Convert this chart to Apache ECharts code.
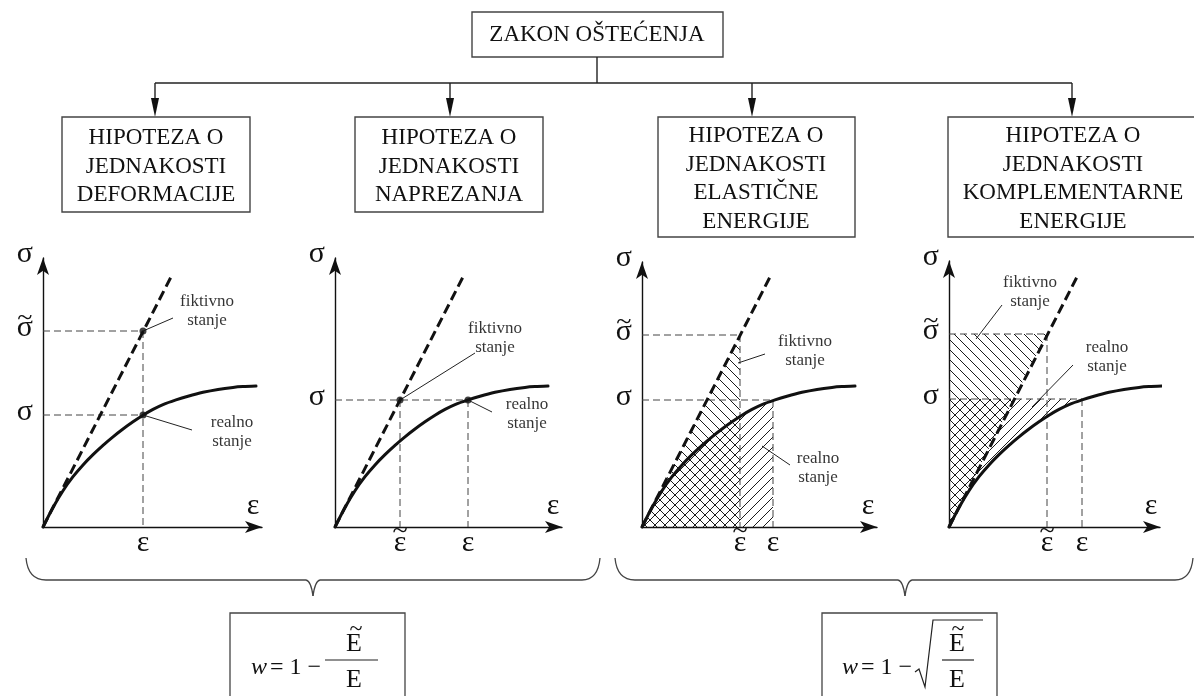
<!DOCTYPE html>
<html><head><meta charset="utf-8">
<script src="https://cdn.jsdelivr.net/npm/echarts@6/dist/echarts.min.js"></script>
<style>html,body{margin:0;padding:0;background:#fff}#c{width:1194px;height:696px}</style>
</head><body><div id="c"></div>
<script>
// ================= DATA =================
// real (nonlinear) stress-strain curve, read from the picture (same in all four panels)
const curveStrain = [0, 0.1, 0.2, 0.3, 0.4, 0.5, 0.6, 0.7, 0.8, 0.9, 1.0, 1.1, 1.2, 1.33, 1.45, 1.6, 1.75, 1.9, 2.0, 2.13];
const curveStress = [0, 0.195, 0.363, 0.503, 0.621, 0.724, 0.817, 0.902, 0.98, 1.052, 1.118, 1.176, 1.224, 1.271, 1.308, 1.347, 1.376, 1.396, 1.404, 1.409];
// fictive (undamaged, linear) line
const fictiveLineStrain = [0, 1.29];
const fictiveLineStress = [0, 2.52];
// characteristic states per panel
const realStrain = [1.00, 1.33, 1.31, 1.33];
const realStress = [1.12, 1.27, 1.27, 1.28];
const fictStrain = [1.00, 0.65, 0.98, 0.98];
const fictStress = [1.96, 1.27, 1.92, 1.93];
// tick labels
const strainLabelReal = 'ε', strainLabelFict = 'ε̃';
const stressLabelReal = 'σ', stressLabelFict = 'σ̃';
const axisNameStrain = 'ε', axisNameStress = 'σ';
// texts
const rootTitle = 'ZAKON OŠTEĆENJA';
const hypothesisTitles = [
  'HIPOTEZA O\nJEDNAKOSTI\nDEFORMACIJE',
  'HIPOTEZA O\nJEDNAKOSTI\nNAPREZANJA',
  'HIPOTEZA O\nJEDNAKOSTI\nELASTIČNE\nENERGIJE',
  'HIPOTEZA O\nJEDNAKOSTI\nKOMPLEMENTARNE\nENERGIJE'
];
const fictiveStateText = 'fiktivno\nstanje';
const realStateText = 'realno\nstanje';
const hatchMode = ['none', 'none', 'energy', 'complementary'];
const showStatePoints = [true, true, false, false];

// ================= LAYOUT =================
const FONT = "'Liberation Serif','Times New Roman',serif";
const INK = '#111';
const L = {
  originX: [43, 335, 642, 949], originY: 527, px: 100,
  strainMax: [2.19, 2.27, 2.35, 2.11],
  stressMax: [2.69, 2.69, 2.65, 2.66],
  fictLabel: [[1.64, 2.16], [1.60, 1.89], [1.63, 1.76], [0.81, 2.35]],
  fictLeaderFrom: [null, null, [0.96, 1.64], [0.27, 1.88]],
  fictLeaderTo: [[1.30, 2.09], [1.40, 1.74], [1.23, 1.73], [0.53, 2.22]],
  realLabel: [[1.89, 0.95], [1.92, 1.13], [1.76, 0.59], [1.58, 1.70]],
  realLeaderFrom: [null, null, [1.20, 0.81], [0.83, 1.20]],
  realLeaderTo: [[1.49, 0.97], [1.57, 1.15], [1.48, 0.62], [1.24, 1.62]]
};

function makePattern(dir) {
  const s = 10, c = document.createElement('canvas');
  c.width = s; c.height = s;
  const g = c.getContext('2d');
  g.strokeStyle = '#1a1a1a'; g.lineWidth = 1;
  g.beginPath();
  if (dir === 'back') {
    g.moveTo(-1, -1); g.lineTo(s + 1, s + 1);
    g.moveTo(-3, s - 3); g.lineTo(3, s + 3);
    g.moveTo(s - 3, -3); g.lineTo(s + 3, 3);
  } else {
    g.moveTo(-1, s + 1); g.lineTo(s + 1, -1);
    g.moveTo(-3, 3); g.lineTo(3, -3);
    g.moveTo(s - 3, s + 3); g.lineTo(s + 3, s - 3);
  }
  g.stroke();
  return c;
}
const patBack = { image: makePattern('back'), repeat: 'repeat' };
const patFwd = { image: makePattern('fwd'), repeat: 'repeat' };

const curvePts = curveStrain.map((e, k) => [e, curveStress[k]]);
const fictLinePts = fictiveLineStrain.map((e, k) => [e, fictiveLineStress[k]]);

const richTildeX = {
  t: { fontFamily: FONT, fontSize: 28, lineHeight: 6, color: INK, align: 'center' },
  g: { fontFamily: FONT, fontSize: 30, lineHeight: 16, color: INK, align: 'center' }
};
const richTildeY = {
  t: { fontFamily: FONT, fontSize: 28, lineHeight: 2, color: INK, align: 'center' },
  g: { fontFamily: FONT, fontSize: 30, lineHeight: 16, color: INK, align: 'center' }
};
function tickText(label) {
  const tilde = label.length > 1;
  return '{t|' + (tilde ? '~' : ' ') + '}\n{g|' + label[0] + '}';
}

const grids = [], xAxes = [], yAxes = [], series = [];
for (let i = 0; i < 4; i++) {
  const R = [realStrain[i], realStress[i]];
  const F = [fictStrain[i], fictStress[i]];
  grids.push({
    left: L.originX[i], top: L.originY - L.stressMax[i] * L.px,
    width: L.strainMax[i] * L.px, height: L.stressMax[i] * L.px,
    outerBoundsMode: 'none'
  });
  const xVals = [], xLabs = [], yVals = [], yLabs = [];
  if (F[0] !== R[0]) { xVals.push(F[0]); xLabs.push(strainLabelFict); }
  xVals.push(R[0]); xLabs.push(strainLabelReal);
  if (F[1] !== R[1]) { yVals.push(F[1]); yLabs.push(stressLabelFict); }
  yVals.push(R[1]); yLabs.push(stressLabelReal);
  const pick = (vals, labs, v) => {
    let b = 0; vals.forEach((x, k) => { if (Math.abs(x - v) < Math.abs(vals[b] - v)) b = k; });
    return tickText(labs[b]);
  };
  const axisLine = { show: true, onZero: false, symbol: ['none', 'arrow'], symbolSize: [9, 17],
    lineStyle: { color: INK, width: 1.4 } };
  xAxes.push({
    type: 'value', gridIndex: i, min: 0, max: L.strainMax[i],
    splitLine: { show: false }, axisTick: { show: false }, axisLine,
    axisLabel: { customValues: xVals, formatter: v => pick(xVals, xLabs, v), margin: 2, rich: richTildeX },
    name: axisNameStrain, nameLocation: 'end', nameGap: -9,
    nameTextStyle: { fontFamily: FONT, fontSize: 30, color: INK, align: 'center', verticalAlign: 'bottom', padding: [0, 0, 6, 0] }
  });
  yAxes.push({
    type: 'value', gridIndex: i, min: 0, max: L.stressMax[i],
    splitLine: { show: false }, axisTick: { show: false }, axisLine,
    axisLabel: { customValues: yVals, formatter: v => pick(yVals, yLabs, v), margin: 10, rich: richTildeY, padding: [0, 0, 8, 0] },
    name: axisNameStress, nameLocation: 'end', nameGap: 4,
    nameTextStyle: { fontFamily: FONT, fontSize: 30, color: INK, align: 'right', verticalAlign: 'middle', padding: [0, 10, 0, 0] }
  });
  const base = { xAxisIndex: i, yAxisIndex: i, silent: true };
  const hatch = (pts, pat) => Object.assign({
    type: 'custom', data: [[0, 0]], z: 1, clip: false,
    renderItem: (p, api) => ({ type: 'polygon', shape: { points: pts.map(q => api.coord(q)) },
      style: { fill: pat, stroke: null } })
  }, base);
  if (hatchMode[i] === 'energy') {
    series.push(hatch([[0, 0], F, [F[0], 0]], patBack));
    const pts = curvePts.filter(q => q[0] < R[0]); pts.push(R, [R[0], 0]);
    series.push(hatch(pts, patFwd));
  } else if (hatchMode[i] === 'complementary') {
    series.push(hatch([[0, 0], F, [0, F[1]]], patBack));
    const pts = curvePts.filter(q => q[0] < R[0]); pts.push(R, [0, R[1]]);
    series.push(hatch(pts, patFwd));
  }
  const refs = [];
  if (F[1] !== R[1]) { refs.push([[0, F[1]], F], [[0, R[1]], R]); }
  else { refs.push([[0, R[1]], [Math.max(F[0], R[0]), R[1]]]); }
  if (F[0] !== R[0]) { refs.push([F, [F[0], 0]], [R, [R[0], 0]]); }
  else { refs.push([[R[0], Math.max(F[1], R[1])], [R[0], 0]]); }
  refs.forEach(seg => series.push(Object.assign({
    type: 'line', data: seg, symbol: 'none', z: 2,
    lineStyle: { color: '#444', width: 1, type: [7, 4] }
  }, base)));
  series.push(Object.assign({ type: 'line', data: fictLinePts, symbol: 'none', z: 3, clip: false,
    lineStyle: { color: INK, width: 3, type: [10, 5] } }, base));
  series.push(Object.assign({ type: 'line', data: curvePts, symbol: 'none', smooth: 0.25, z: 4, clip: false,
    lineStyle: { color: INK, width: 3, join: 'round', cap: 'round' } }, base));
  if (showStatePoints[i]) {
    series.push(Object.assign({ type: 'scatter', data: [F, R], symbolSize: 7, z: 5,
      itemStyle: { color: INK } }, base));
  }
  const fFrom = L.fictLeaderFrom[i] || F, rFrom = L.realLeaderFrom[i] || R;
  [[fFrom, L.fictLeaderTo[i]], [rFrom, L.realLeaderTo[i]]].forEach(seg => series.push(Object.assign({
    type: 'line', data: seg, symbol: 'none', z: 5, clip: false,
    lineStyle: { color: '#222', width: 1 } }, base)));
  [[L.fictLabel[i], fictiveStateText], [L.realLabel[i], realStateText]].forEach(([pos, t]) => series.push(Object.assign({
    type: 'scatter', data: [pos], symbolSize: 1, z: 6, clip: false,
    itemStyle: { color: 'transparent' },
    label: { show: true, position: 'inside', formatter: t, fontFamily: FONT, fontSize: 17, lineHeight: 19, color: '#000' }
  }, base)));
}

// ================= DIAGRAM FRAME (graphic) =================
const G = [];
const boxStyle = { fill: '#fff', stroke: '#444', lineWidth: 1.4 };
const txt = (x, y, text, size, extra) => ({ type: 'text', x, y, silent: true,
  style: Object.assign({ text, fill: INK, fontFamily: FONT, fontSize: size, align: 'center', verticalAlign: 'middle' }, extra || {}) });
const ln = (x1, y1, x2, y2, stroke, w) => ({ type: 'line', silent: true, shape: { x1, y1, x2, y2 }, style: { stroke: stroke || '#222', lineWidth: w || 1.4 } });
const qc = (x1, y1, cx, cy, x2, y2) => ({ type: 'bezierCurve', silent: true, shape: { x1, y1, x2, y2, cpx1: cx, cpy1: cy }, style: { stroke: '#444', lineWidth: 1.3, fill: null } });
G.push({ type: 'rect', shape: { x: 472, y: 12, width: 251, height: 45 }, style: boxStyle });
G.push(txt(597, 35, rootTitle, 23));
G.push(ln(597, 57, 597, 83));
G.push(ln(155, 83, 1072, 83));
const arrowX = [155, 450, 752, 1072];
arrowX.forEach(x => {
  G.push(ln(x, 83, x, 100));
  G.push({ type: 'polygon', shape: { points: [[x - 4, 98], [x + 4, 98], [x, 117]] }, style: { fill: '#111' } });
});
const boxes = [[62, 117, 188, 95], [355, 117, 188, 95], [658, 117, 197, 120], [948, 117, 260, 120]];
const boxTextX = [156, 449, 756, 1073];
boxes.forEach((b, i) => {
  G.push({ type: 'rect', shape: { x: b[0], y: b[1], width: b[2], height: b[3] }, style: boxStyle });
  G.push(txt(boxTextX[i], b[1] + b[3] / 2 + 2, hypothesisTitles[i], 23, { lineHeight: 28.5 }));
});
function brace(xl, xm, xr) {
  G.push(qc(xl, 558, xl + 2, 580, xl + 20, 580));
  G.push(ln(xl + 20, 580, xm - 7, 580, '#444', 1.3));
  G.push(qc(xm - 7, 580, xm - 2, 581, xm, 596));
  G.push(qc(xm, 596, xm + 2, 581, xm + 7, 580));
  G.push(ln(xm + 7, 580, xr - 18, 580, '#444', 1.3));
  G.push(qc(xr - 18, 580, xr - 2, 580, xr, 558));
}
brace(26, 313, 600);
brace(615, 905, 1193);
G.push({ type: 'rect', shape: { x: 230, y: 613, width: 175, height: 95 }, style: { fill: 'none', stroke: '#444', lineWidth: 1.3 } });
G.push({ type: 'rect', shape: { x: 822, y: 613, width: 175, height: 95 }, style: { fill: 'none', stroke: '#444', lineWidth: 1.3 } });
// formula 1
G.push(txt(251, 668, 'w', 24, { align: 'left', fontStyle: 'italic' }));
G.push(txt(270, 668, '= 1 −', 24, { align: 'left' }));
G.push(ln(325, 660, 378, 660, '#222', 1.2));
G.push(txt(356, 630, '~', 24));
G.push(txt(354, 644, 'E', 26));
G.push(txt(354, 680, 'E', 26));
// formula 2
G.push(txt(842, 668, 'w', 24, { align: 'left', fontStyle: 'italic' }));
G.push(txt(861, 668, '= 1 −', 24, { align: 'left' }));
G.push({ type: 'polyline', silent: true, shape: { points: [[915, 672], [919, 669], [925, 687], [933, 620], [983, 620]] }, style: { stroke: '#222', lineWidth: 1.2, fill: null } });
G.push(ln(942, 660, 974, 660, '#222', 1.2));
G.push(txt(958, 630, '~', 24));
G.push(txt(957, 644, 'E', 26));
G.push(txt(957, 680, 'E', 26));

const chart = echarts.init(document.getElementById('c'), null, { renderer: 'canvas', width: 1194, height: 696 });
chart.setOption({
  backgroundColor: '#fff',
  animation: false,
  textStyle: { fontFamily: FONT },
  grid: grids, xAxis: xAxes, yAxis: yAxes, series,
  graphic: { elements: G }
});
</script></body></html>
